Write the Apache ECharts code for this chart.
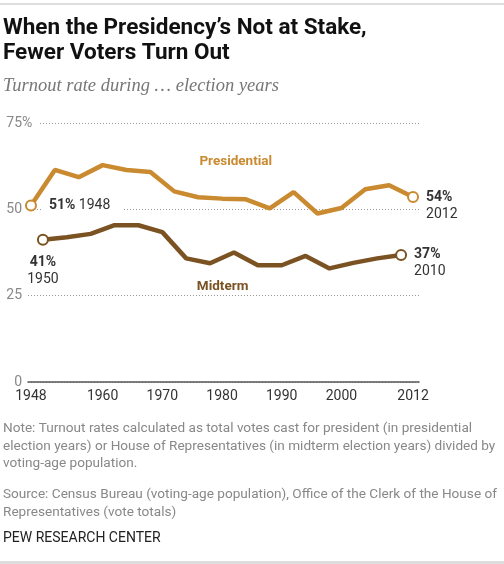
<!DOCTYPE html>
<html>
<head>
<meta charset="utf-8">
<style>
html,body{margin:0;padding:0;background:#fff;}
#chart{width:504px;height:564px;}
</style>
<script src="https://cdn.jsdelivr.net/npm/echarts@6/dist/echarts.min.js"></script>
</head>
<body>
<div id="chart"></div>
<script>
var presYears = [1948,1952,1956,1960,1964,1968,1972,1976,1980,1984,1988,1992,1996,2000,2004,2008,2012];
var presValues = [51.1,61.4,59.3,62.8,61.4,60.8,55.2,53.5,53.1,52.9,50.3,55.0,48.8,50.4,55.8,57.0,53.6];
var midYears = [1950,1954,1958,1962,1966,1970,1974,1978,1982,1986,1990,1994,1998,2002,2006,2010];
var midValues = [41.2,41.9,42.9,45.4,45.4,43.4,35.8,34.4,37.5,33.8,33.8,36.5,32.9,34.5,35.8,36.8];
var xTickLabels = [1948,1960,1970,1980,1990,2000,2012];
var yTicks = [0,25,50,75];

var PRES = '#C98A30';
var MID = '#7B5222';
var FONT = 'Roboto, "Noto Sans", sans-serif';

function buildData(years, values, firstLabel, lastLabel){
  return years.map(function(y,i){
    var item = {value:[y, values[i]]};
    if(i===0){ item.symbol='circle'; item.symbolSize=10; item.label=firstLabel; }
    else if(i===years.length-1){ item.symbol='circle'; item.symbolSize=10; item.label=lastLabel; }
    else { item.symbol='none'; }
    return item;
  });
}
function pct(v){ return Math.round(v)+'%'; }

var labelRich = {
  b:{fontWeight:'bold', fontSize:14, color:'#333', fontFamily:FONT, lineHeight:17},
  n:{fontSize:14, color:'#333', fontFamily:FONT, lineHeight:17}
};

var presData = buildData(presYears, presValues,
  {show:true, position:'right', distance:6,
   formatter:'{b|'+pct(presValues[0])+'}{n| '+presYears[0]+'}',
   rich:labelRich, backgroundColor:'#fff', padding:[2,13,2,6]},
  {show:true, position:'right', distance:7, offset:[0,9], align:'left',
   formatter:'{b|'+pct(presValues[presValues.length-1])+'}\n{n|'+presYears[presYears.length-1]+'}',
   rich:labelRich});
var midData = buildData(midYears, midValues,
  {show:true, position:'bottom', distance:8, align:'center',
   formatter:'{b|'+pct(midValues[0])+'}\n{n|'+midYears[0]+'}',
   rich:labelRich},
  {show:true, position:'right', distance:7, offset:[0,8], align:'left',
   formatter:'{b|'+pct(midValues[midValues.length-1])+'}\n{n|'+midYears[midYears.length-1]+'}',
   rich:labelRich});

var chart = echarts.init(document.getElementById('chart'), null, {renderer:'canvas'});
var option = {
  animation:false,
  backgroundColor:'#fff',
  grid:{left:28, right:85, top:123, bottom:182, containLabel:false},
  xAxis:{
    type:'value', min:1947.5, max:2013,
    axisLine:{show:true, lineStyle:{color:'#555', width:1.5}},
    axisTick:{show:false},
    splitLine:{show:false},
    axisLabel:{customValues:xTickLabels, formatter:function(v){return String(v);},
      color:'#333', fontSize:14, fontFamily:FONT, margin:7}
  },
  yAxis:{
    type:'value', min:0, max:75, interval:25,
    axisLine:{show:false}, axisTick:{show:false},
    axisLabel:{color:'#888', fontSize:14, fontFamily:FONT, margin:6,
      formatter:function(v){return String(v);}},
    splitLine:{show:true, lineStyle:{color:'#999', type:[1,2], width:1}}
  },
  series:[
    {type:'line', name:'Presidential', data:presData, lineStyle:{color:PRES, width:4.5},
     itemStyle:{color:'#fff', borderColor:PRES, borderWidth:2}, z:3,
     markPoint:{symbol:'circle', symbolSize:0, silent:true,
       data:[{coord:[1982.3,63.9], label:{show:true, formatter:'Presidential', color:PRES,
         fontWeight:'bold', fontSize:13.5, fontFamily:FONT}}]}},
    {type:'line', name:'Midterm', data:midData, lineStyle:{color:MID, width:4.5},
     itemStyle:{color:'#fff', borderColor:MID, borderWidth:2}, z:3,
     markPoint:{symbol:'circle', symbolSize:0, silent:true,
       data:[{coord:[1980.1,27.7], label:{show:true, formatter:'Midterm', color:MID,
         fontWeight:'bold', fontSize:13.5, fontFamily:FONT}}]}}
  ],
  graphic:[
    {type:'rect', left:0, top:3, shape:{width:504, height:2}, style:{fill:'#ddd'}},
    {type:'text', left:3, top:16, style:{text:'When the Presidency\u2019s Not at Stake,\nFewer Voters Turn Out',
      font:'bold 22.5px '+FONT, fill:'#111', lineHeight:25}},
    {type:'text', left:3, top:77, style:{text:'Turnout rate during \u2026 election years',
      font:'italic 18.5px "Liberation Serif", "DejaVu Serif", serif', fill:'#777'}},
    {type:'text', x:22, y:123, z:10, style:{text:'%', font:'14px '+FONT, fill:'#888',
      verticalAlign:'middle', align:'left', backgroundColor:'#fff', padding:[2,7,2,0]}},
    {type:'text', left:3, top:420, style:{text:'Note: Turnout rates calculated as total votes cast for president (in presidential\nelection years) or House of Representatives (in midterm election years) divided by\nvoting-age population.',
      font:'13.6px '+FONT, fill:'#888', lineHeight:17.5}},
    {type:'text', left:3, top:485, style:{text:'Source: Census Bureau (voting-age population), Office of the Clerk of the House of\nRepresentatives (vote totals)',
      font:'13.6px '+FONT, fill:'#888', lineHeight:18.5}},
    {type:'text', left:3, top:531, style:{text:'PEW RESEARCH CENTER', font:'14px '+FONT, fill:'#222'}},
    {type:'rect', left:0, top:561, shape:{width:504, height:3}, style:{fill:'#ddd'}}
  ]
};
chart.setOption(option);
</script>
</body>
</html>
